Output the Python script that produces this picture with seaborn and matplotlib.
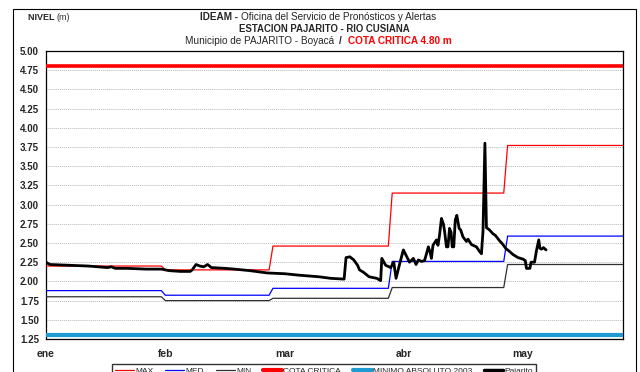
import numpy as np
import pandas as pd
import matplotlib
matplotlib.use("Agg")
import matplotlib.pyplot as plt
import seaborn as sns
from matplotlib.patches import Rectangle
from matplotlib.lines import Line2D

# --- data -------------------------------------------------------------
meses = ["ene", "feb", "mar", "abr", "may"]
dias_por_mes = [31, 28, 31, 30, 31]
nivel_max = [2.20, 2.15, 2.46, 3.15, 3.77]
nivel_med = [1.88, 1.82, 1.91, 2.26, 2.59]
nivel_min = [1.80, 1.75, 1.78, 1.92, 2.22]
cota_critica = 4.80
minimo_absoluto_2003 = 1.30

pajarito_dia = [
    0, 1, 6, 11, 16, 17, 18, 21, 26, 30, 32, 35, 37.5, 38, 39, 40, 41, 42, 43,
    46.5, 49, 53, 57.5, 62, 66, 71, 74, 77.5, 78, 79, 80, 81, 81.5, 82.5, 84,
    86, 87, 87.3, 88.3, 89.6, 90.4, 91, 92, 92.9, 93.8, 94.5, 95.5, 96.2, 96.8,
    97.6, 98.4, 98.8, 99.4, 99.8, 100.2, 100.6, 101.5, 101.9, 102.3, 102.8,
    103.3, 103.6, 104.1, 104.5, 104.9, 105.3, 105.6, 106.0, 106.4, 106.8,
    107.4, 107.8, 108.4, 109.3, 109.7, 110.6, 111.9, 112.7, 113.2, 113.6,
    114.1, 114.5, 115.3, 116.2, 116.8, 117.9, 118.8, 119.5, 120.5, 121.4,
    122.7, 124.0, 124.6, 124.9, 125.8, 126.1, 127.0, 127.5, 128.1, 128.4,
    128.8, 129.3, 130.0,
]
pajarito_nivel = [
    2.25, 2.22, 2.21, 2.20, 2.18, 2.19, 2.17, 2.17, 2.16, 2.16, 2.14, 2.13,
    2.13, 2.15, 2.22, 2.20, 2.19, 2.22, 2.18, 2.17, 2.16, 2.14, 2.11, 2.10,
    2.08, 2.06, 2.04, 2.03, 2.31, 2.32, 2.28, 2.21, 2.15, 2.12, 2.06, 2.04,
    2.01, 2.30, 2.21, 2.18, 2.25, 2.04, 2.24, 2.41, 2.32, 2.25, 2.30, 2.22,
    2.28, 2.26, 2.27, 2.34, 2.45, 2.39, 2.30, 2.47, 2.54, 2.47, 2.60, 2.82,
    2.75, 2.66, 2.45, 2.45, 2.69, 2.64, 2.45, 2.45, 2.80, 2.86, 2.69, 2.67,
    2.58, 2.52, 2.55, 2.48, 2.45, 2.39, 2.36, 2.65, 3.80, 2.70, 2.67, 2.62,
    2.60, 2.53, 2.48, 2.43, 2.39, 2.35, 2.31, 2.29, 2.27, 2.17, 2.17, 2.25,
    2.25, 2.40, 2.54, 2.43, 2.42, 2.44, 2.41,
]

# --- daily tables -----------------------------------------------------
n_dias = sum(dias_por_mes)
dias = np.arange(n_dias)
diario = pd.DataFrame({
    "dia": dias,
    "MAX": np.repeat(nivel_max, dias_por_mes),
    "MED": np.repeat(nivel_med, dias_por_mes),
    "MIN": np.repeat(nivel_min, dias_por_mes),
    "COTA": np.full(n_dias, cota_critica),
    "MINABS": np.full(n_dias, minimo_absoluto_2003),
})
pajarito = pd.DataFrame({"dia": pajarito_dia, "nivel": pajarito_nivel})

# --- styling ----------------------------------------------------------
sns.set_theme(style="white")
plt.rcParams["font.family"] = ["Liberation Sans", "DejaVu Sans"]

W, H = 640, 372
fig = plt.figure(figsize=(W / 100, H / 100), dpi=100)
ax = fig.add_axes([46 / W, 1 - 339 / H, (623 - 46) / W, (339 - 51) / H])

c_max, c_med, c_min = "#FF0000", "#0000FF", "#303030"
c_cota, c_minabs, c_paj = "#FF0000", "#1E9BD0", "#000000"

sns.lineplot(data=diario, x="dia", y="COTA", ax=ax, color=c_cota, lw=2.6,
             estimator=None, zorder=4)
sns.lineplot(data=diario, x="dia", y="MINABS", ax=ax, color=c_minabs, lw=3.0,
             estimator=None, zorder=4)
sns.lineplot(data=diario, x="dia", y="MAX", ax=ax, color=c_max, lw=0.9,
             estimator=None, zorder=3)
sns.lineplot(data=diario, x="dia", y="MED", ax=ax, color=c_med, lw=0.9,
             estimator=None, zorder=3)
sns.lineplot(data=diario, x="dia", y="MIN", ax=ax, color=c_min, lw=0.9,
             estimator=None, zorder=3)
sns.lineplot(data=pajarito, x="dia", y="nivel", ax=ax, color=c_paj, lw=2.0,
             estimator=None, sort=False, zorder=5)

ax.set_xlim(0, 150)
ax.set_ylim(1.25, 5.00)
ax.set_xlabel("")
ax.set_ylabel("")

yt = np.arange(1.25, 5.001, 0.25)
ax.set_yticks(yt)
ax.set_yticklabels([f"{v:.2f}" for v in yt], fontsize=7, fontweight="bold")
ax.set_xticks([31 * i for i in range(len(meses))])
ax.set_xticklabels(meses, fontsize=7.5, fontweight="bold")
ax.tick_params(axis="both", direction="out", length=3, width=0.8,
               color="black", pad=2)
ax.tick_params(axis="x", pad=4)

ax.yaxis.grid(True, color="#B8B8B8", linestyle=(0, (1, 1)), lw=0.7)
ax.xaxis.grid(False)
for s in ax.spines.values():
    s.set_color("black")
    s.set_linewidth(0.9)

# --- outer frame --------------------------------------------------------
fig.patches.append(Rectangle((13 / W, -0.05), (636 - 13) / W, 1.05 - 9 / H,
                             transform=fig.transFigure, fill=False,
                             edgecolor="black", lw=0.8))

# --- titles (mixed styles on one line) ----------------------------------
renderer = fig.canvas.get_renderer()


def linea(partes, x_px, y_px, ha="center"):
    """Draw text segments side by side; partes = [(texto, kwargs), ...]."""
    objs = [fig.text(0, 1 - y_px / H, t, va="center", ha="left", **kw)
            for t, kw in partes]
    anchos = [o.get_window_extent(renderer).width for o in objs]
    total = sum(anchos)
    x0 = x_px - total / 2 if ha == "center" else x_px
    for o, w in zip(objs, anchos):
        o.set_x(x0 / W)
        x0 += w


linea([("NIVEL ", dict(fontsize=6.5, fontweight="bold")),
       ("(m)", dict(fontsize=6.5, color="#333333"))], 28, 17, ha="left")
linea([("IDEAM - ", dict(fontsize=7.2, fontweight="bold")),
       ("Oficina del Servicio de Pronósticos y Alertas", dict(fontsize=7.2))],
      318, 17)
linea([("ESTACION PAJARITO - RIO CUSIANA",
        dict(fontsize=6.9, fontweight="bold"))], 324, 29)
linea([("Municipio de PAJARITO - Boyacá  ", dict(fontsize=7.2)),
       ("/  ", dict(fontsize=7.2, fontweight="bold")),
       ("COTA CRITICA 4.80 m", dict(fontsize=7.2, fontweight="bold",
                                    color="#FF0000"))], 318, 41)

# --- legend ---------------------------------------------------------------
handles = [
    Line2D([], [], color=c_max, lw=0.9),
    Line2D([], [], color=c_med, lw=0.9),
    Line2D([], [], color=c_min, lw=0.9),
    Line2D([], [], color=c_cota, lw=3.0),
    Line2D([], [], color=c_minabs, lw=3.0),
    Line2D([], [], color=c_paj, lw=2.5),
]
labels = ["MAX", "MED", "MIN", "COTA CRITICA", "MINIMO ABSOLUTO 2003", "Pajarito"]
leg = fig.legend(handles, labels, loc="upper center", ncol=6,
                 bbox_to_anchor=(324 / W, 1 - 364 / H), fontsize=6,
                 frameon=True, fancybox=False, handlelength=2.3,
                 handletextpad=0.15, columnspacing=1.4, borderpad=0.35,
                 borderaxespad=0)
leg.get_frame().set_edgecolor("black")
leg.get_frame().set_linewidth(1.0)

fig.savefig("out.png", dpi=100)
